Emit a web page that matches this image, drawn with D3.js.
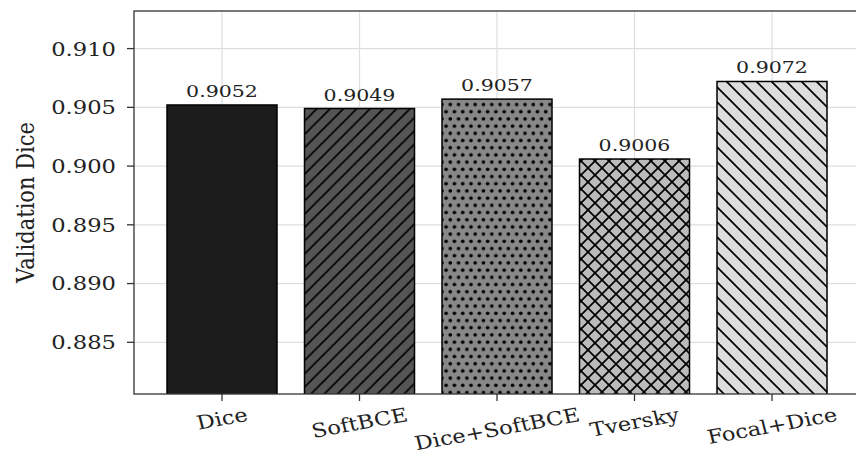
<!DOCTYPE html>
<html>
<head>
<meta charset="utf-8">
<script src="https://cdn.jsdelivr.net/npm/d3@7/dist/d3.min.js"></script>
<style>
  html, body { margin: 0; padding: 0; background: #fff; }
  svg { display: block; }
  text { font-family: "DejaVu Serif", serif; fill: #222; }
</style>
</head>
<body>
<svg id="chart" width="856" height="456"></svg>
<script>
// Validation Dice per loss function
const categories = ["Dice", "SoftBCE", "Dice+SoftBCE", "Tversky", "Focal+Dice"];
const values = [0.9052, 0.9049, 0.9057, 0.9006, 0.9072];
const fills = ["#1c1c1c", "#555555", "#888888", "#bbbbbb", "#dddddd"];
const hatches = ["none", "forward", "dots", "cross", "back"];
const yTicks = [0.885, 0.890, 0.895, 0.900, 0.905, 0.910];
const yDomain = [0.8806, 0.9132];

const W = 856, H = 456;
const plot = { left: 134, right: 860, top: 11, bottom: 394 };
const sx = 1.18; // horizontal text stretch

const svg = d3.select("#chart");
const defs = svg.append("defs");

const x = d3.scaleBand()
  .domain(categories)
  .range([plot.left, plot.right])
  .paddingInner(0.2)
  .paddingOuter(0.24);

const y = d3.scaleLinear().domain(yDomain).range([plot.bottom, plot.top]);

// clip to the axes area
defs.append("clipPath").attr("id", "plotClip")
  .append("rect")
  .attr("x", plot.left).attr("y", plot.top)
  .attr("width", plot.right - plot.left).attr("height", plot.bottom - plot.top);

// hatch patterns
function makePattern(id, kind, base) {
  const lw = 1.7;
  if (kind === "forward" || kind === "back" || kind === "cross") {
    const s = kind === "forward" ? 13.3 : (kind === "back" ? 15 : 14);
    const p = defs.append("pattern").attr("id", id)
      .attr("patternUnits", "userSpaceOnUse").attr("width", s).attr("height", s);
    p.append("rect").attr("width", s).attr("height", s).attr("fill", base);
    const fwd = `M0,${s} L${s},0 M${-s/2},${s/2} L${s/2},${-s/2} M${s/2},${1.5*s} L${1.5*s},${s/2}`;
    const bck = `M0,0 L${s},${s} M${-s/2},${s/2} L${s/2},${1.5*s} M${s/2},${-s/2} L${1.5*s},${s/2}`;
    if (kind === "forward" || kind === "cross")
      p.append("path").attr("d", fwd).attr("stroke", "#000").attr("stroke-width", lw).attr("fill", "none");
    if (kind === "back" || kind === "cross")
      p.append("path").attr("d", bck).attr("stroke", "#000").attr("stroke-width", lw).attr("fill", "none");
  } else if (kind === "dots") {
    const pw = 8.3, ph = 14.4;
    const p = defs.append("pattern").attr("id", id)
      .attr("patternUnits", "userSpaceOnUse").attr("width", pw).attr("height", ph);
    p.append("rect").attr("width", pw).attr("height", ph).attr("fill", base);
    const pts = [[pw/4, ph/4], [3*pw/4, 3*ph/4]];
    pts.forEach(([cx, cy]) => p.append("circle").attr("cx", cx).attr("cy", cy).attr("r", 1.8).attr("fill", "#000"));
  }
}
categories.forEach((c, i) => {
  if (hatches[i] !== "none") makePattern("hatch" + i, hatches[i], fills[i]);
});

// grid
const grid = svg.append("g").attr("clip-path", "url(#plotClip)");
grid.selectAll("line.hg").data(yTicks).join("line")
  .attr("x1", plot.left).attr("x2", plot.right)
  .attr("y1", d => y(d)).attr("y2", d => y(d))
  .attr("stroke", "#dedede").attr("stroke-width", 1.2);
grid.selectAll("line.vg").data(categories).join("line")
  .attr("x1", d => x(d) + x.bandwidth() / 2).attr("x2", d => x(d) + x.bandwidth() / 2)
  .attr("y1", plot.top).attr("y2", plot.bottom)
  .attr("stroke", "#dedede").attr("stroke-width", 1.2);

// bars
const bars = svg.append("g").attr("clip-path", "url(#plotClip)");
bars.selectAll("rect").data(categories).join("rect")
  .attr("x", d => x(d))
  .attr("width", x.bandwidth())
  .attr("y", (d, i) => y(values[i]))
  .attr("height", (d, i) => plot.bottom + 2 - y(values[i]))
  .attr("fill", (d, i) => hatches[i] === "none" ? fills[i] : `url(#hatch${i})`)
  .attr("stroke", "#000").attr("stroke-width", 1.5);

// value labels
categories.forEach((c, i) => {
  svg.append("text")
    .attr("transform", `translate(${x(c) + x.bandwidth() / 2},${y(values[i]) - 8}) scale(${sx},1)`)
    .attr("text-anchor", "middle")
    .style("font-size", "17.4px")
    .text(values[i].toFixed(4));
});

// frame
svg.append("rect")
  .attr("x", plot.left).attr("y", plot.top)
  .attr("width", plot.right - plot.left).attr("height", plot.bottom - plot.top)
  .attr("fill", "none").attr("stroke", "#333").attr("stroke-width", 1.3);

// y axis ticks and labels
const yAxis = svg.append("g");
yTicks.forEach(t => {
  yAxis.append("line").attr("x1", plot.left - 7).attr("x2", plot.left)
    .attr("y1", y(t)).attr("y2", y(t)).attr("stroke", "#333").attr("stroke-width", 1.3);
  yAxis.append("text")
    .attr("transform", `translate(${plot.left - 18},${y(t)}) scale(${sx},1)`)
    .attr("text-anchor", "end").attr("dy", "0.36em")
    .style("font-size", "19.2px")
    .text(d3.format(".3f")(t));
});

// x axis ticks and rotated labels
const xAxis = svg.append("g");
const ang = 12, rad = ang * Math.PI / 180, fs = 19.2;
categories.forEach(c => {
  const cx = x(c) + x.bandwidth() / 2;
  xAxis.append("line").attr("x1", cx).attr("x2", cx)
    .attr("y1", plot.bottom).attr("y2", plot.bottom + 7).attr("stroke", "#333").attr("stroke-width", 1.3);
  const g = xAxis.append("g");
  const t = g.append("text").attr("text-anchor", "middle").attr("dy", "0.36em")
    .style("font-size", fs + "px").text(c);
  const w = t.node().getComputedTextLength();
  const h = fs * 1.17;
  const cy = 403 + (w * Math.sin(rad) + h * Math.cos(rad)) / 2;
  g.attr("transform", `translate(${cx},${cy}) scale(${sx},1) rotate(${-ang})`);
});

// y axis title
svg.append("text")
  .attr("transform", `translate(34,${(plot.top + plot.bottom) / 2}) scale(${sx},1) rotate(-90)`)
  .attr("text-anchor", "middle")
  .style("font-size", "21px")
  .text("Validation Dice");
</script>
</body>
</html>
